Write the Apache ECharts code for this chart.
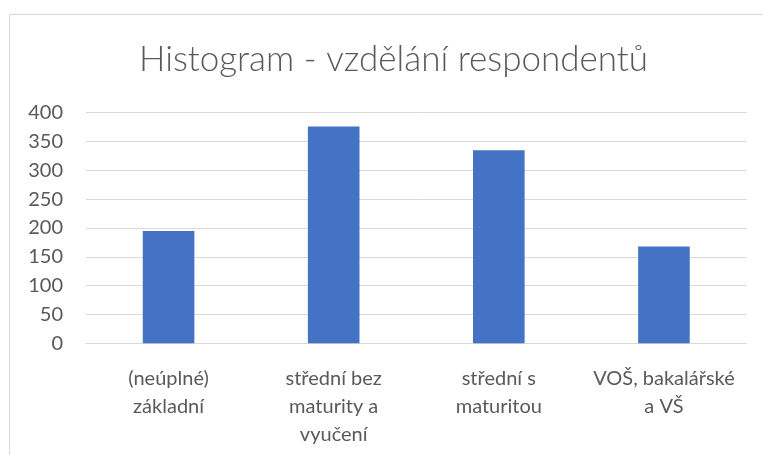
<!DOCTYPE html>
<html>
<head>
<meta charset="utf-8">
<script src="https://cdn.jsdelivr.net/npm/echarts@6/dist/echarts.min.js"></script>
<style>
  html, body { margin: 0; padding: 0; background: #fff; }
  #chart-container { width: 763px; height: 455px; }
</style>
</head>
<body>
<div id="chart-container"></div>
<script>
var categories = ['(neúplné)\nzákladní', 'střední bez\nmaturity a\nvyučení', 'střední s\nmaturitou', 'VOŠ, bakalářské\na VŠ'];
var counts = [195, 376, 335, 168];
var yTicks = [0, 50, 100, 150, 200, 250, 300, 350, 400];

var dom = document.getElementById('chart-container');
var myChart = echarts.init(dom, null, { renderer: 'canvas' });

var textColor = '#595959';
var gridColor = '#d9d9d9';

var option = {
  animation: false,
  title: {
    text: 'Histogram - vzdělání respondentů',
    left: 134,
    top: 37,
    textStyle: {
      fontFamily: 'Lato',
      fontSize: 35,
      fontWeight: 300,
      color: textColor
    }
  },
  // okraj rámečku grafu (vpravo a dole je oříznutý)
  graphic: [{
    type: 'rect',
    shape: { x: 9.5, y: 14.5, width: 800, height: 500 },
    style: { fill: 'none', stroke: gridColor, lineWidth: 1 },
    silent: true
  }],
  grid: {
    left: 86,
    right: 16.5,
    top: 112.7,
    bottom: 111.7
  },
  xAxis: {
    type: 'category',
    data: categories,
    axisTick: { show: false },
    axisLine: { lineStyle: { color: gridColor, width: 1 } },
    axisLabel: {
      interval: 0,
      margin: 21,
      fontFamily: 'Lato',
      fontSize: 20,
      lineHeight: 28,
      color: textColor
    }
  },
  yAxis: {
    type: 'value',
    min: yTicks[0],
    max: yTicks[yTicks.length - 1],
    interval: yTicks[1] - yTicks[0],
    axisLine: { show: false },
    axisTick: { show: false },
    splitLine: { lineStyle: { color: gridColor, width: 1 } },
    axisLabel: {
      margin: 23,
      fontFamily: 'Lato',
      fontSize: 20,
      color: textColor
    }
  },
  series: [{
    type: 'bar',
    data: counts,
    barWidth: 51.6,
    itemStyle: { color: '#4472c4' }
  }]
};

myChart.setOption(option);
window.addEventListener('resize', myChart.resize);
</script>
</body>
</html>
